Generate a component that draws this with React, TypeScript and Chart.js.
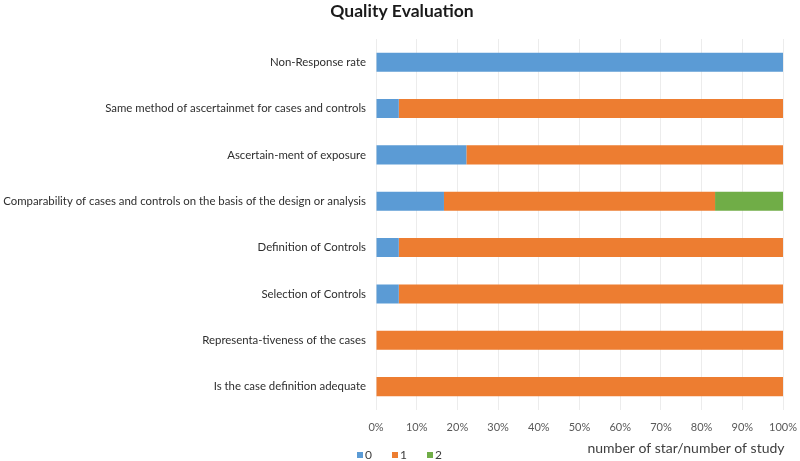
import React, { useEffect, useRef } from "react";
import { Chart, registerables } from "chart.js";

Chart.register(...registerables);

const categories = [
  "Non-Response rate",
  "Same method of ascertainmet for cases and controls",
  "Ascertain-ment of exposure",
  "Comparability of cases and controls on the basis of the design or analysis",
  "Definition of Controls",
  "Selection of Controls",
  "Representa-tiveness of the cases",
  "Is the case definition adequate",
];
const series0 = [100, 5.6, 22.2, 16.7, 5.6, 5.6, 0, 0];
const series1 = [0, 94.4, 77.8, 66.6, 94.4, 94.4, 100, 100];
const series2 = [0, 0, 0, 16.7, 0, 0, 0, 0];
const seriesNames = ["0", "1", "2"];
const colors = ["#5B9BD5", "#ED7D31", "#70AD47"];
const chartTitle = "Quality Evaluation";
const axisTitle = "number of star/number of study";
const FONT = "Lato, 'Open Sans', sans-serif";

export default function App() {
  const ref = useRef<HTMLCanvasElement | null>(null);
  useEffect(() => {
    if (!ref.current) return;
    const decorPlugin = {
      id: "decor",
      afterDraw(chart: any) {
        const ctx = chart.ctx;
        ctx.save();
        ctx.font = `bold 17.5px ${FONT}`;
        ctx.fillStyle = "#1a1a1a";
        ctx.textAlign = "center";
        ctx.textBaseline = "middle";
        ctx.fillText(chartTitle, 402, 11);
        ctx.font = `14px ${FONT}`;
        ctx.fillStyle = "#404040";
        ctx.fillText(axisTitle, 686, 448);
        const xs = chart.scales.x;
        let x = xs.left - 19;
        const y = 455;
        ctx.font = `12px ${FONT}`;
        ctx.textAlign = "left";
        chart.data.datasets.forEach((ds: any) => {
          ctx.fillStyle = ds.backgroundColor;
          ctx.fillRect(x, y - 3, 6, 6);
          ctx.fillStyle = "#404040";
          ctx.fillText(ds.label, x + 8, y);
          x += 35;
        });
        ctx.restore();
      },
    };
    const chart = new Chart(ref.current, {
      type: "bar",
      data: {
        labels: categories,
        datasets: [series0, series1, series2].map((d, i) => ({
          label: seriesNames[i],
          data: d,
          backgroundColor: colors[i],
          borderWidth: 0,
          barPercentage: 0.41,
          categoryPercentage: 1,
        })),
      },
      options: {
        indexAxis: "y",
        animation: false,
        responsive: false,
        layout: { padding: { left: 1, right: 16, top: 39, bottom: 24 } },
        plugins: {
          title: { display: false },
          legend: { display: false },
          tooltip: { enabled: false },
        },
        scales: {
          x: {
            stacked: true,
            min: 0,
            max: 100,
            ticks: {
              stepSize: 10,
              callback: (v: any) => v + "%",
              font: { family: FONT, size: 11 },
              color: "#595959",
              padding: 3,
            },
            grid: { color: "#ececec", drawTicks: true, tickLength: 8, tickColor: "rgba(0,0,0,0)" },
            border: { display: false },
          },
          y: {
            stacked: true,
            afterFit: (s: any) => {
              s.width = 375;
            },
            ticks: {
              font: { family: FONT, size: 11.4 },
              color: "#2e2e2e",
              padding: 10,
            },
            grid: { display: false, drawTicks: false },
            border: { display: false },
          },
        },
      },
      plugins: [decorPlugin],
    });
    return () => chart.destroy();
  }, []);
  return (
    <div style={{ position: "fixed", left: 0, top: 0, width: 800, height: 461, background: "#fff" }}>
      <canvas ref={ref} width={800} height={461} />
    </div>
  );
}
